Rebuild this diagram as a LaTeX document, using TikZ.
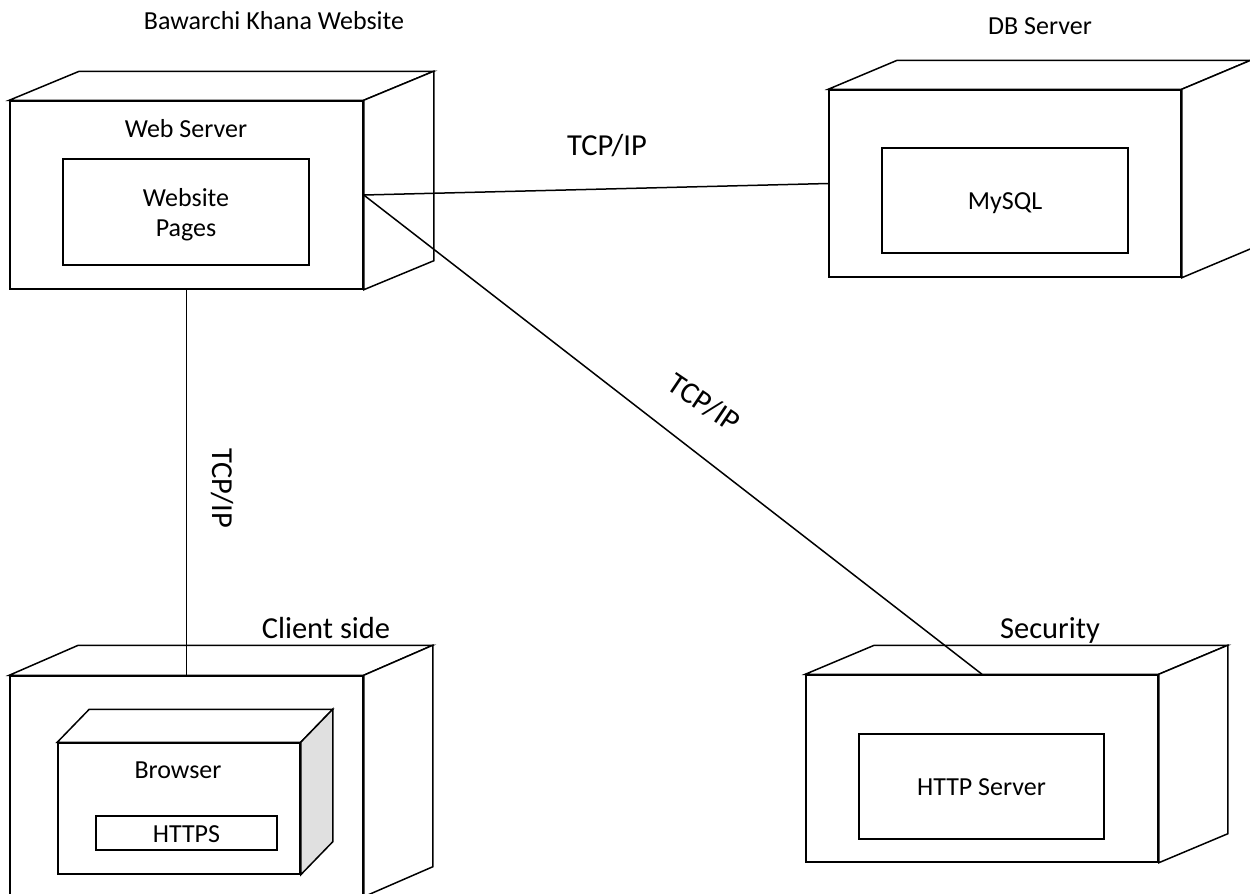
\documentclass[tikz,border=0pt]{standalone}
\usepackage{fontspec}
\setmainfont{Carlito}
\tikzset{
  face/.style={draw, line width=1.5pt, fill=white, rectangle, inner sep=0pt},
  part/.style={draw, line width=1.4pt, fill=white, rectangle, inner sep=0pt},
  edgeline/.style={line width=1.5pt, line join=miter},
  link/.style={line width=1.5pt},
  txt/.style={font=\fontsize{26}{30}\selectfont, inner sep=0pt, anchor=base},
  bigtxt/.style={font=\fontsize{30.5}{36}\selectfont, inner sep=0pt, anchor=base},
}
% top and right faces of a 3D node: name, depth x, depth up, fill
\newcommand\nodedepth[4]{%
  \filldraw[edgeline, fill=white] (#1.north west) -- ([shift={(#2,-#3)}]#1.north west)
    -- ([shift={(#2,-#3)}]#1.north east) -- (#1.north east) -- cycle;
  \filldraw[edgeline, fill=#4] (#1.north east) -- ([shift={(#2,-#3)}]#1.north east)
    -- ([shift={(#2,-#3)}]#1.south east) -- (#1.south east) -- cycle;
}
\begin{document}
\begin{tikzpicture}[x=1pt, y=-1pt]
\useasboundingbox[fill=white] (0,0) rectangle (1250,894);

% node titles
\node[txt] (tws) at (274,29) {Bawarchi Khana Website};
\node[txt] (tdb) at (1040,34) {DB Server};
\node[bigtxt] (tcl) at (326,638) {Client side};
\node[bigtxt] (tsec) at (1050,638) {Security};

% web server
\node[face, minimum width=353pt, minimum height=188pt] (ws) at (186.5,195) {};
\nodedepth{ws}{70}{29}{white}
\node[txt] (wslbl) at (186,137) {Web Server};
\node[part, minimum width=246pt, minimum height=106pt] (pages) at (186,212) {};
\node[font=\fontsize{26}{30}\selectfont, align=center, inner sep=0pt] (pagestxt) at (186,215) {Website\\Pages};

% database server
\node[face, minimum width=352pt, minimum height=187pt] (db) at (1005,183.5) {};
\nodedepth{db}{69}{29}{white}
\node[part, minimum width=246pt, minimum height=105pt] (mysql) at (1005,200.5) {};
\node[txt] (mysqltxt) at (1005,209) {MySQL};

% client side
\node[face, minimum width=353pt, minimum height=220pt] (cl) at (186.5,786) {};
\nodedepth{cl}{69}{30}{white}
\node[face, minimum width=242pt, minimum height=131pt] (br) at (179,808.5) {};
\nodedepth{br}{32}{33}{black!12}
\node[txt] (brtxt) at (178,778) {Browser};
\node[part, minimum width=181pt, minimum height=34pt] (https) at (186.5,833) {};
\node[txt] (httpstxt) at (186.5,842) {HTTPS};

% security
\node[face, minimum width=352pt, minimum height=187pt] (sec) at (982,768.5) {};
\nodedepth{sec}{69}{29}{white}
\node[part, minimum width=245pt, minimum height=105pt] (http) at (981.5,786.5) {};
\node[txt] (httptxt) at (981.5,795) {HTTP Server};

% connections
\draw[link] (ws.east) -- (db.west);
\draw[link] (ws.east) -- (sec.north);
\draw[link] (ws.south) -- (cl.north);

% connection labels
\node[bigtxt, anchor=center] (l1) at (607,146) {TCP/IP};
\node[bigtxt, anchor=center, rotate=-90] (l2) at (222,488) {TCP/IP};
\node[bigtxt, anchor=center, rotate=-34] (l3) at (704,403) {TCP/IP};
\end{tikzpicture}
\end{document}
